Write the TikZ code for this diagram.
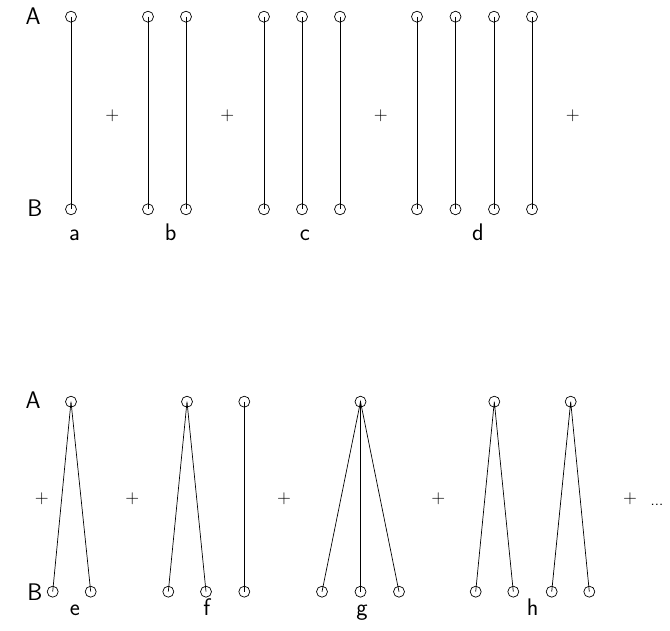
\documentclass[tikz,border=0pt]{standalone}
\begin{document}
\begin{tikzpicture}[x=1pt,y=-1pt,
  vtx/.style={circle,draw,minimum size=11pt,inner sep=0pt,line width=0.7pt},
  conn/.style={line width=0.7pt},
  lbl/.style={font=\sffamily\fontsize{24}{28}\selectfont,inner sep=0pt,anchor=base},
  plus/.style={font=\sffamily\fontsize{19}{22}\selectfont,inner sep=0pt}]
\useasboundingbox (0,0) rectangle (670,631);
% top row
\node[lbl] (LA1) at (33,25) {A};
\node[lbl] (LB1) at (35,216.7) {B};
\foreach \n/\x in {a1/71,b1/148,b2/186,c1/264,c2/302,c3/340,d1/417,d2/455.5,d3/494,d4/532}{
  \node[vtx] (t\n) at (\x,16.7) {};
  \node[vtx] (b\n) at (\x,209.3) {};
  \draw[conn] (t\n.center) -- (b\n.center);
}
\node[lbl] (la) at (74.5,240.5) {a};
\node[lbl] (lb) at (170.7,240.5) {b};
\node[lbl] (lc) at (305,240.5) {c};
\node[lbl] (ld) at (478,240.5) {d};
\node[plus] (p1) at (112.3,116) {+};
\node[plus] (p2) at (227.3,116) {+};
\node[plus] (p3) at (380.7,116) {+};
\node[plus] (p4) at (572.7,116) {+};
% bottom row
\node[lbl] (LA2) at (33,408.3) {A};
\node[lbl] (LB2) at (35,600.7) {B};
\foreach \n/\x in {e/71,f1/187,f2/244.3,g/360.5,h1/494.3,h2/570.7}{
  \node[vtx] (u\n) at (\x,401.7) {};
}
\foreach \n/\x in {e1/52.7,e2/90.7,f1/168.3,f2/206,f3/244.3,g1/322,g2/360.5,g3/399,h1/475.7,h2/513.3,h3/551.7,h4/589.3}{
  \node[vtx] (v\n) at (\x,591.7) {};
}
\draw[conn] (ve1.center) -- (ue.center) -- (ve2.center);
\draw[conn] (vf1.center) -- (uf1.center) -- (vf2.center);
\draw[conn] (uf2.center) -- (vf3.center);
\draw[conn] (vg1.center) -- (ug.center) -- (vg3.center);
\draw[conn] (ug.center) -- (vg2.center);
\draw[conn] (vh1.center) -- (uh1.center) -- (vh2.center);
\draw[conn] (vh3.center) -- (uh2.center) -- (vh4.center);
\node[lbl] (le) at (75,615) {e};
\node[lbl] (lf) at (206.7,615) {f};
\node[lbl] (lg) at (362,615) {g};
\node[lbl] (lh) at (532.7,615) {h};
\node[plus] (q1) at (41.7,498.3) {+};
\node[plus] (q2) at (132.3,498.3) {+};
\node[plus] (q3) at (284,498.3) {+};
\node[plus] (q4) at (438.3,498.3) {+};
\node[plus] (q5) at (630,498.3) {+};
\node[lbl,font=\sffamily\fontsize{16}{19}\selectfont] (dots) at (657,505) {...};
\end{tikzpicture}
\end{document}
